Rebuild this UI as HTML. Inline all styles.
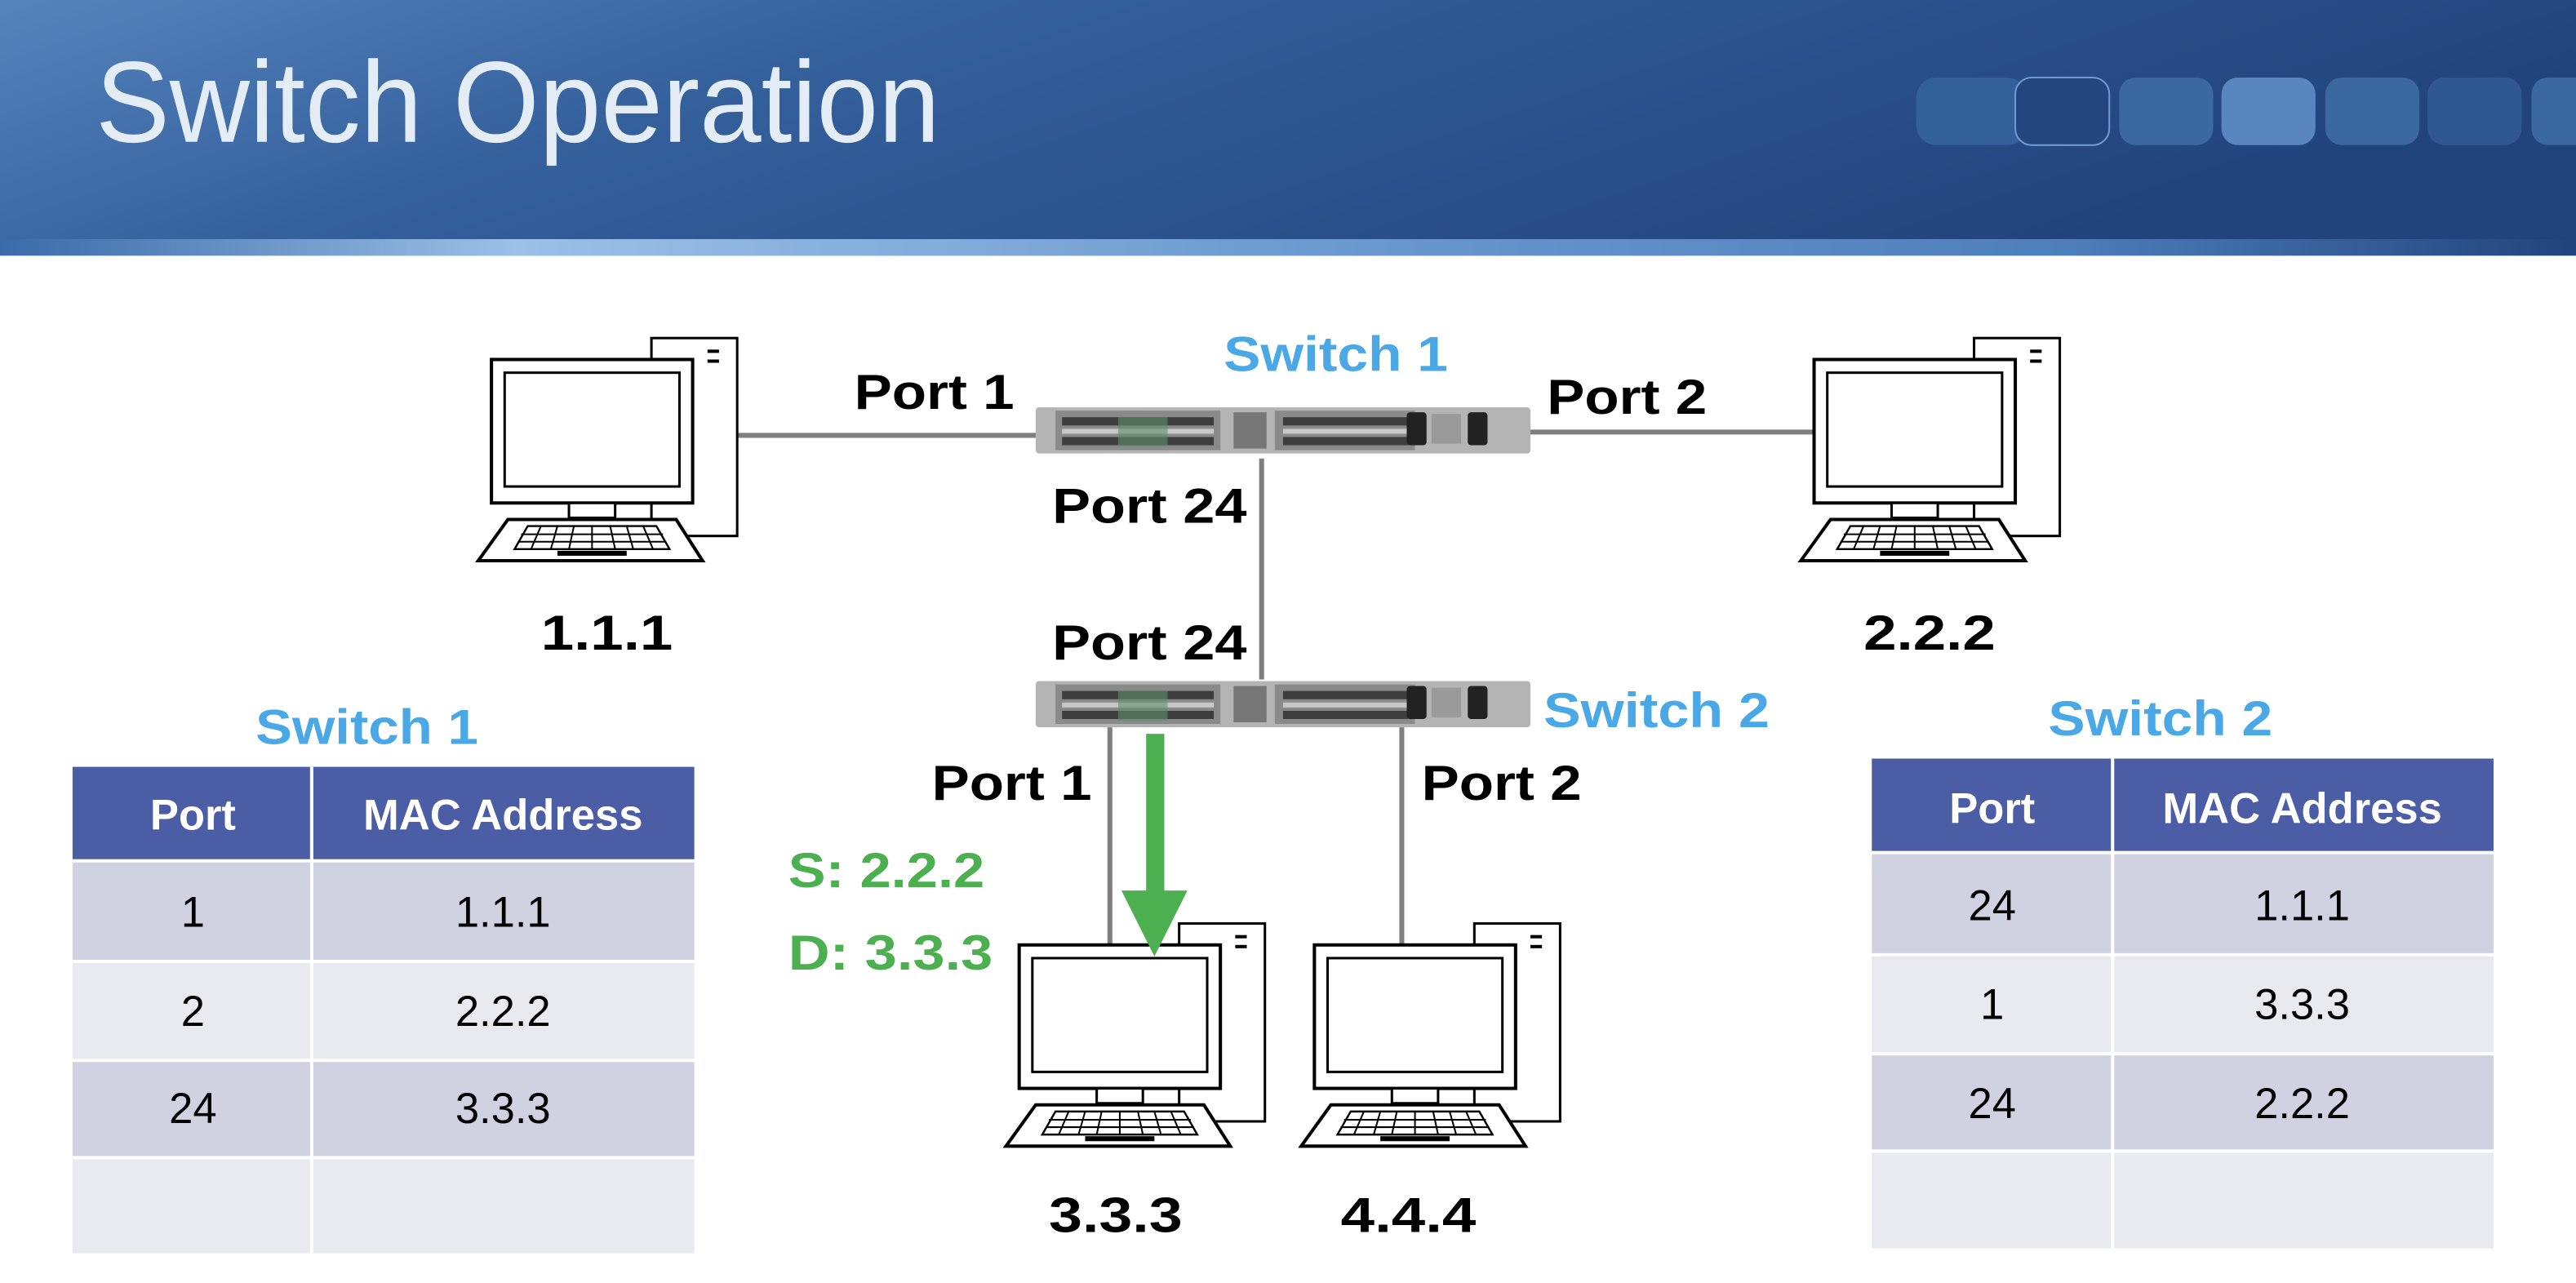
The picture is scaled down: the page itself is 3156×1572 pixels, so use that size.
<!DOCTYPE html>
<html><head><meta charset="utf-8"><style>
html,body{margin:0;padding:0;background:#fff;}
svg{display:block;}
text{font-family:"Liberation Sans",sans-serif;}
</style></head><body>
<svg width="3156" height="1572" viewBox="0 0 1562 778" preserveAspectRatio="none" xmlns="http://www.w3.org/2000/svg">
<defs>
<linearGradient id="hd" x1="0" y1="0" x2="1" y2="0.3">
<stop offset="0" stop-color="#5584bd"/><stop offset="0.35" stop-color="#34609c"/><stop offset="1" stop-color="#22447c"/>
</linearGradient>
<linearGradient id="st" x1="0" y1="0" x2="1" y2="0">
<stop offset="0" stop-color="#3a6aa8"/><stop offset="0.2" stop-color="#9cc0e6"/><stop offset="0.5" stop-color="#6d9bd0"/><stop offset="0.8" stop-color="#4d7fbb"/><stop offset="1" stop-color="#22447c"/>
</linearGradient>
<g id="pc">
<rect x="97" y="-13" width="52" height="120" fill="#fff" stroke="#000" stroke-width="1.5"/>
<rect x="131" y="-6" width="7" height="2" fill="#000"/>
<rect x="131" y="0" width="7" height="2" fill="#000"/>
<rect x="0" y="0" width="122" height="87" fill="#fff" stroke="#000" stroke-width="2"/>
<rect x="8" y="8" width="106" height="69" fill="#fff" stroke="#000" stroke-width="1.5"/>
<rect x="47" y="87" width="28" height="9" fill="#fff" stroke="#000" stroke-width="1.5"/>
<path d="M10 97 L112 97 L128 122 L-8 122 Z" fill="#fff" stroke="#000" stroke-width="2"/>
<path d="M22 101 L100 101 L108 115 L14 115 Z" fill="none" stroke="#000" stroke-width="1.2"/>
<path d="M18 106 L104 106 M16 110.5 L106 110.5" stroke="#000" stroke-width="1"/>
<path d="M30 101 L24 115 M40 101 L36 115 M50 101 L47 115 M61 101 L61 115 M72 101 L75 115 M82 101 L86 115 M92 101 L98 115" stroke="#000" stroke-width="1"/>
<rect x="40" y="116" width="42" height="3" fill="#000"/>
</g>
<g id="sw">
<rect x="0" y="0" width="300" height="28" rx="2" fill="#b4b4b4"/>
<rect x="12" y="2" width="100" height="24" fill="#8a8a8a"/>
<rect x="16" y="6" width="92" height="5" fill="#3e3e3e"/>
<rect x="16" y="13" width="92" height="3" fill="#c8c8c8"/>
<rect x="16" y="18" width="92" height="5" fill="#3e3e3e"/>
<rect x="50" y="6" width="30" height="18" fill="#5f8f6c" opacity="0.6"/>
<rect x="120" y="3" width="20" height="22" fill="#777"/>
<rect x="145" y="2" width="85" height="24" fill="#8a8a8a"/>
<rect x="150" y="6" width="76" height="5" fill="#3e3e3e"/>
<rect x="150" y="13" width="76" height="3" fill="#c8c8c8"/>
<rect x="150" y="18" width="76" height="5" fill="#3e3e3e"/>
<rect x="225" y="3" width="12" height="20" rx="2" fill="#222"/>
<rect x="262" y="3" width="12" height="20" rx="2" fill="#222"/>
<rect x="240" y="4" width="18" height="18" fill="#9a9a9a"/>
</g>
</defs>

<!-- header -->
<rect x="0" y="0" width="1562" height="155" fill="url(#hd)"/>
<rect x="0" y="145" width="1562" height="10" fill="url(#st)"/>
<g>
<rect x="1162" y="47" width="67" height="41" rx="12" fill="#34609a"/>
<rect x="1222" y="47" width="57" height="41" rx="10" fill="#23467f" stroke="#6f9ad0" stroke-width="1"/>
<rect x="1285" y="47" width="57" height="41" rx="10" fill="#3c68a0"/>
<rect x="1347" y="47" width="57" height="41" rx="10" fill="#5a86bf"/>
<rect x="1410" y="47" width="57" height="41" rx="10" fill="#3c68a0"/>
<rect x="1472" y="47" width="57" height="41" rx="10" fill="#2f5890"/>
<rect x="1535" y="47" width="57" height="41" rx="10" fill="#3c68a0"/>
</g>
<text x="58" y="86" font-size="70" fill="#e4ecf6" textLength="512" lengthAdjust="spacingAndGlyphs">Switch Operation</text>

<!-- connectors -->
<g stroke="#7f7f7f" stroke-width="3">
<line x1="447" y1="264" x2="630" y2="264"/>
<line x1="926" y1="262" x2="1100" y2="262"/>
<line x1="765" y1="278" x2="765" y2="412"/>
<line x1="673" y1="441" x2="673" y2="576"/>
<line x1="850" y1="441" x2="850" y2="576"/>
</g>

<use href="#sw" x="628" y="247"/>
<use href="#sw" x="628" y="413"/>

<use href="#pc" x="298" y="218"/>
<use href="#pc" x="1100" y="218"/>
<use href="#pc" x="618" y="573"/>
<use href="#pc" x="797" y="573"/>

<!-- green arrow -->
<rect x="695" y="445" width="11" height="97" fill="#4caf50"/>
<path d="M680 540 L720 540 L700 580 Z" fill="#4caf50"/>

<!-- labels -->
<g font-weight="bold" font-size="30">
<text x="518" y="248" textLength="97" lengthAdjust="spacingAndGlyphs">Port 1</text>
<text x="938" y="251" textLength="97" lengthAdjust="spacingAndGlyphs">Port 2</text>
<text x="638" y="317" textLength="118" lengthAdjust="spacingAndGlyphs">Port 24</text>
<text x="638" y="400" textLength="118" lengthAdjust="spacingAndGlyphs">Port 24</text>
<text x="565" y="485" textLength="97" lengthAdjust="spacingAndGlyphs">Port 1</text>
<text x="862" y="485" textLength="97" lengthAdjust="spacingAndGlyphs">Port 2</text>
<text x="328" y="394" textLength="80" lengthAdjust="spacingAndGlyphs">1.1.1</text>
<text x="1130" y="394" textLength="80" lengthAdjust="spacingAndGlyphs">2.2.2</text>
<text x="636" y="747" textLength="81" lengthAdjust="spacingAndGlyphs">3.3.3</text>
<text x="813" y="747" textLength="82" lengthAdjust="spacingAndGlyphs">4.4.4</text>
<text x="478" y="538" fill="#4caf50" textLength="119" lengthAdjust="spacingAndGlyphs">S: 2.2.2</text>
<text x="478" y="588" fill="#4caf50" textLength="124" lengthAdjust="spacingAndGlyphs">D: 3.3.3</text>
<g fill="#4aa8e6">
<text x="742" y="225" textLength="136" lengthAdjust="spacingAndGlyphs">Switch 1</text>
<text x="936" y="441" textLength="137" lengthAdjust="spacingAndGlyphs">Switch 2</text>
<text x="155" y="451" textLength="135" lengthAdjust="spacingAndGlyphs">Switch 1</text>
<text x="1242" y="446" textLength="136" lengthAdjust="spacingAndGlyphs">Switch 2</text>
</g>
</g>

<!-- left table -->
<g>
<rect x="44" y="465" width="377" height="56" fill="#4b5da5"/>
<rect x="44" y="523" width="377" height="59" fill="#d0d2e2"/>
<rect x="44" y="584" width="377" height="58" fill="#e9e9f0"/>
<rect x="44" y="644" width="377" height="57" fill="#d0d2e2"/>
<rect x="44" y="703" width="377" height="57" fill="#e9e9f0"/>
<line x1="189" y1="465" x2="189" y2="760" stroke="#fff" stroke-width="2"/>
<g font-size="26" text-anchor="middle">
<text x="117" y="503" fill="#fff" font-weight="bold">Port</text>
<text x="305" y="503" fill="#fff" font-weight="bold">MAC Address</text>
<text x="117" y="562">1</text><text x="305" y="562">1.1.1</text>
<text x="117" y="622">2</text><text x="305" y="622">2.2.2</text>
<text x="117" y="681">24</text><text x="305" y="681">3.3.3</text>
</g>
</g>

<!-- right table -->
<g>
<rect x="1135" y="460" width="377" height="56" fill="#4b5da5"/>
<rect x="1135" y="518" width="377" height="60" fill="#d0d2e2"/>
<rect x="1135" y="580" width="377" height="58" fill="#e9e9f0"/>
<rect x="1135" y="640" width="377" height="57" fill="#d0d2e2"/>
<rect x="1135" y="699" width="377" height="58" fill="#e9e9f0"/>
<line x1="1281" y1="460" x2="1281" y2="757" stroke="#fff" stroke-width="2"/>
<g font-size="26" text-anchor="middle">
<text x="1208" y="499" fill="#fff" font-weight="bold">Port</text>
<text x="1396" y="499" fill="#fff" font-weight="bold">MAC Address</text>
<text x="1208" y="558">24</text><text x="1396" y="558">1.1.1</text>
<text x="1208" y="618">1</text><text x="1396" y="618">3.3.3</text>
<text x="1208" y="678">24</text><text x="1396" y="678">2.2.2</text>
</g>
</g>
</svg>
</body></html>
